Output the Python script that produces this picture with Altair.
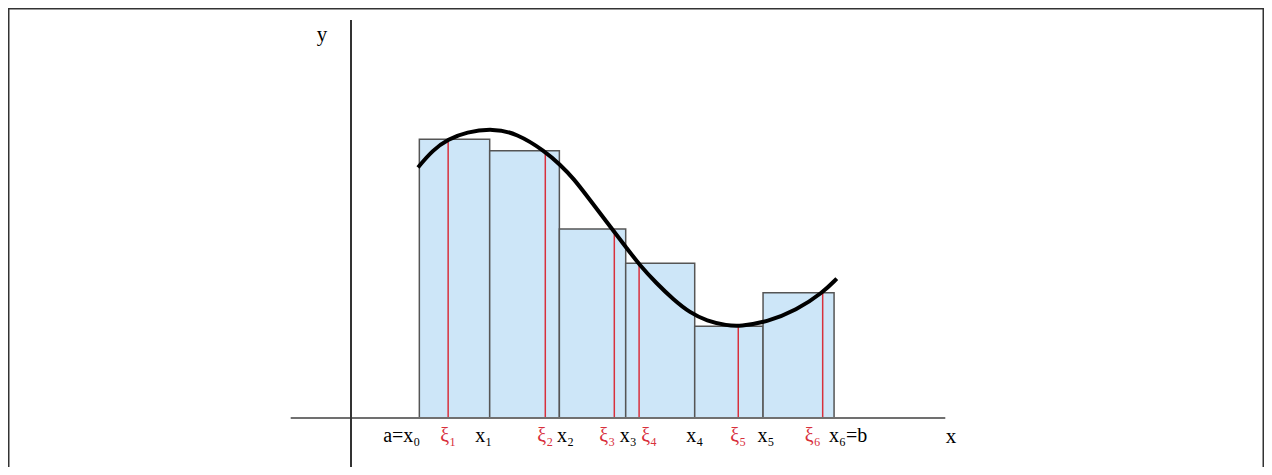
import altair as alt
import pandas as pd

# ---- data (arbitrary units) ----
x_edges = [1.02, 2.07, 3.11, 4.10, 5.13, 6.15, 7.21]          # x0 .. x6
xi_vals = [1.45, 2.90, 3.93, 4.30, 5.78, 7.04]                  # xi_1 .. xi_6
heights = [4.16, 3.99, 2.82, 2.31, 1.37, 1.87]                  # f(xi_i)
curve_x = [1.00, 1.22, 1.45, 1.72, 2.12, 2.47, 2.90, 3.12, 3.32, 3.57,
           3.82, 4.12, 4.31, 4.56, 4.81, 5.06, 5.31, 5.61, 5.81, 6.20,
           6.65, 7.04, 7.25]
curve_y = [3.74, 4.00, 4.16, 4.27, 4.32, 4.25, 3.98, 3.78, 3.58, 3.25,
           2.92, 2.53, 2.28, 2.01, 1.77, 1.57, 1.45, 1.38, 1.37, 1.43,
           1.61, 1.87, 2.08]

x_labels = ["a=x₀", "x₁", "x₂", "x₃", "x₄", "x₅", "x₆=b"]
xi_labels = ["ξ₁", "ξ₂", "ξ₃", "ξ₄", "ξ₅", "ξ₆"]

# ---- styling / layout ----
W, H = 1256, 459
UNIT = 67.0                 # pixels per data unit
OX, OY = 343.0, 410.0       # pixel position of the origin inside the view
xdom = [-OX / UNIT, (W - OX) / UNIT]
ydom = [(OY - H) / UNIT, OY / UNIT]
FONT = "Liberation Serif"
FS = 20
RED = "#d8303c"
LABEL_Y = -0.36

xs = alt.Scale(domain=xdom, nice=False, zero=False)
ys = alt.Scale(domain=ydom, nice=False, zero=False)

rect_df = pd.DataFrame({"x": x_edges[:-1], "x2": x_edges[1:], "h": heights})
xi_df = pd.DataFrame({"x": xi_vals, "h": heights})
curve_df = pd.DataFrame({"x": curve_x, "y": curve_y, "o": list(range(len(curve_x)))})

base_x = alt.X("x:Q", scale=xs, axis=None)

rects = alt.Chart(rect_df).mark_rect(
    fill="#cde6f8", stroke="#555555", strokeWidth=1.5
).encode(
    x=base_x, x2="x2:Q",
    y=alt.Y("zero:Q", scale=ys, axis=None), y2="h:Q"
).transform_calculate(zero="0")

xi_lines = alt.Chart(xi_df).mark_rule(color=RED, strokeWidth=1.5).encode(
    x=base_x,
    y=alt.Y("zero:Q", scale=ys, axis=None), y2="h:Q"
).transform_calculate(zero="0")

curve = alt.Chart(curve_df).mark_line(
    color="black", strokeWidth=4, interpolate="basis"
).encode(
    x=base_x, y=alt.Y("y:Q", scale=ys, axis=None), order="o:Q"
)

axes_df = pd.DataFrame({
    "x": [-0.9, 0.0], "x2": [8.87, 0.0],
    "y": [0.0, -0.75], "y2": [0.0, 5.94],
    "k": ["xaxis", "yaxis"]})
axis_lines = alt.Chart(axes_df).mark_rule(strokeWidth=2).encode(
    x=base_x, x2="x2:Q",
    y=alt.Y("y:Q", scale=ys, axis=None), y2="y2:Q",
    color=alt.Color("k:N", scale=alt.Scale(domain=["xaxis", "yaxis"],
                                           range=["#707070", "#333333"]),
                    legend=None)
)

layers = [rects, xi_lines, curve, axis_lines]

# tick labels (pixel nudges, align)
x_nudge = [1, -6, 6, 2.5, 0, 3, -5]
x_align = ["right", "center", "center", "center", "center", "center", "left"]
xi_nudge = [0, 0, -7, 10, 0, -10]

for val, lab, dx, al in zip(x_edges, x_labels, x_nudge, x_align):
    layers.append(
        alt.Chart(pd.DataFrame({"x": [val], "y": [LABEL_Y], "t": [lab]}))
        .mark_text(font=FONT, fontSize=FS, color="#000000", align=al,
                   baseline="alphabetic", dx=dx)
        .encode(x=base_x, y=alt.Y("y:Q", scale=ys, axis=None), text="t:N")
    )
for val, lab, dx in zip(xi_vals, xi_labels, xi_nudge):
    layers.append(
        alt.Chart(pd.DataFrame({"x": [val], "y": [LABEL_Y], "t": [lab]}))
        .mark_text(font=FONT, fontSize=FS, color=RED, align="center",
                   baseline="alphabetic", dx=dx)
        .encode(x=base_x, y=alt.Y("y:Q", scale=ys, axis=None), text="t:N")
    )

axis_names = pd.DataFrame({"x": [8.955, -0.433], "y": [-0.373, 5.627], "t": ["x", "y"]})
layers.append(
    alt.Chart(axis_names).mark_text(font=FONT, fontSize=21, color="#000000",
                                    align="center", baseline="alphabetic")
    .encode(x=base_x, y=alt.Y("y:Q", scale=ys, axis=None), text="t:N")
)

# picture frame (top, left, right)
frame_col = "#333333"
frame = [
    alt.Chart(pd.DataFrame({"a": [0]})).mark_rule(color=frame_col, strokeWidth=1.5)
    .encode(x=alt.value(0), x2=alt.value(W), y=alt.value(0.75)),
    alt.Chart(pd.DataFrame({"a": [0]})).mark_rule(color=frame_col, strokeWidth=1.5)
    .encode(x=alt.value(0.75), y=alt.value(0), y2=alt.value(H)),
    alt.Chart(pd.DataFrame({"a": [0]})).mark_rule(color=frame_col, strokeWidth=1.5)
    .encode(x=alt.value(W - 0.75), y=alt.value(0), y2=alt.value(H)),
]
layers.extend(frame)

chart = alt.layer(*layers).properties(
    width=W, height=H, padding=0,
    autosize=alt.AutoSizeParams(type="none")
).configure_view(stroke=None)

chart.save("out.html", embed_options={"renderer": "svg", "actions": False})
